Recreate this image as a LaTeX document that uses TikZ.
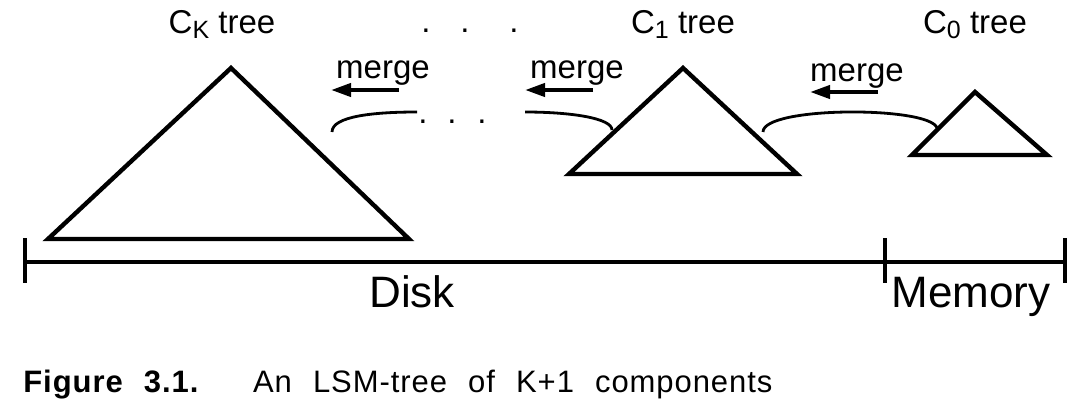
\documentclass[tikz,border=0pt]{standalone}
\usepackage{fontspec}
\setmainfont{Liberation Sans}
\usepackage{tikz}
\usetikzlibrary{arrows.meta}
\usetikzlibrary{positioning}
\newcommand{\treeidx}[1]{\raisebox{-2.5pt}{\fontsize{12.5pt}{12.5pt}\selectfont #1}}
\tikzset{
tree label/.style = { anchor = base, inner sep = 0pt, font = \fontsize{16.5pt}{18pt}\selectfont },
merge label/.style = { anchor = base, inner sep = 0pt, font = \fontsize{16.5pt}{18pt}\selectfont },
area label/.style = { anchor = base, inner sep = 0pt, font = \fontsize{22pt}{24pt}\selectfont },
dotmark/.style = { inner sep = 0pt, font = \fontsize{16.5pt}{18pt}\selectfont },
merge arrow/.style = { line width = 2pt, -{Triangle[length = 10pt, width = 6.5pt]} },
merge path/.style = { line width = 1.4pt },
}
\tikzset{
pics/tree/.style args={#1, #2, #3}{
        code = {
        \path[draw = black, line width = 2.2pt] (0, 0) -- (-#1, #3) -- (#2, #3) -- cycle;
        }
    }
}
\begin{document}
\begin{tikzpicture}[x = 0.5pt, y = -0.5pt]
    \useasboundingbox (0, 0) rectangle (1090, 412);
    % trees
    \draw (231, 68) pic{tree = {183, 178, 171}};
    \draw (683, 68) pic{tree = {114, 114, 106}};
    \draw (975, 92) pic{tree = {63, 72, 63}};
    \node[tree label] (ckLabel) at (222, 33) {C\treeidx{K} tree};
    \node[tree label] (cOneLabel) at (683, 33) {C\treeidx{1} tree};
    \node[tree label] (cZeroLabel) at (975, 33) {C\treeidx{0} tree};
    \foreach \x in {426, 465, 514} \node[dotmark] (top\x) at (\x, 31) {.};
    \foreach \x in {423, 452, 482} \node[dotmark] (mid\x) at (\x, 122) {.};
    % merges
    \node[merge label] (mergeA) at (383, 78) {merge};
    \node[merge label] (mergeB) at (577, 78) {merge};
    \node[merge label] (mergeC) at (857, 81) {merge};
    \coordinate (arrowAfrom) at (399, 90);
    \coordinate (arrowAto) at (331, 90);
    \coordinate (arrowBfrom) at (593, 90);
    \coordinate (arrowBto) at (525, 90);
    \coordinate (arrowCfrom) at (878, 92);
    \coordinate (arrowCto) at (810, 92);
    \draw[merge arrow] (arrowAfrom) -- (arrowAto);
    \draw[merge arrow] (arrowBfrom) -- (arrowBto);
    \draw[merge arrow] (arrowCfrom) -- (arrowCto);
    \coordinate (pathAstart) at (332, 132);
    \coordinate (pathAend) at (417, 112);
    \coordinate (pathBstart) at (525, 112);
    \coordinate (pathBend) at (612, 130);
    \coordinate (pathCstart) at (763, 132);
    \coordinate (pathCend) at (937, 128);
    \draw[merge path] (pathAstart) .. controls (332, 116) and (375, 112) .. (pathAend);
    \draw[merge path] (pathBstart) .. controls (570, 112) and (612, 118) .. (pathBend);
    \draw[merge path] (pathCstart) .. controls (763, 106) and (930, 106) .. (pathCend);
    % disk and memory
    \coordinate (diskStart) at (25, 262);
    \coordinate (diskEnd) at (885, 262);
    \coordinate (memEnd) at (1065, 262);
    \draw[line width = 2pt] (diskStart) -- (diskEnd) -- (memEnd);
    \foreach \c in {diskStart, diskEnd, memEnd}
        \draw[line width = 1.6pt] ([yshift = 12pt]\c) -- ([yshift = -10.5pt]\c);
    \node[area label] (disk) at (412, 307) {Disk};
    \node[area label] (memory) at (971, 307) {Memory};
    % caption
    \node[anchor = base west, inner sep = 0pt, font = \fontsize{15.5pt}{18pt}\selectfont\addfontfeature{LetterSpace = 3}] (caption) at (23, 392)
        {\makebox[374.5pt][s]{\textbf{Figure 3.1.}\hspace{0.2em} An LSM-tree of K+1 components}};
  \end{tikzpicture}
\end{document}
